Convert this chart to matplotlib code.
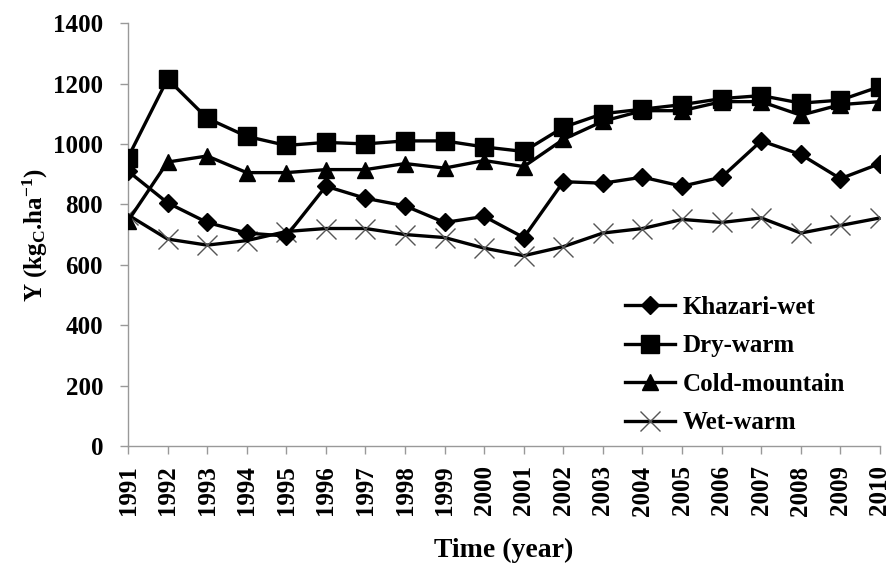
import matplotlib
matplotlib.use("Agg")
import matplotlib.pyplot as plt

years = list(range(1991, 2011))
khazari_wet = [910, 805, 740, 705, 695, 860, 820, 795, 740, 760, 690, 875, 870, 890, 860, 890, 1010, 965, 885, 935]
dry_warm = [955, 1215, 1085, 1025, 995, 1005, 1000, 1010, 1010, 990, 975, 1055, 1100, 1115, 1130, 1150, 1160, 1135, 1145, 1190]
cold_mountain = [745, 940, 960, 905, 905, 915, 915, 935, 920, 945, 925, 1015, 1075, 1110, 1110, 1140, 1140, 1095, 1130, 1140]
wet_warm = [765, 685, 665, 680, 710, 720, 720, 700, 690, 655, 630, 660, 705, 720, 750, 740, 755, 705, 730, 755]
series_names = ["Khazari-wet", "Dry-warm", "Cold-mountain", "Wet-warm"]
y_ticks = [0, 200, 400, 600, 800, 1000, 1200, 1400]

plt.rcParams['font.family'] = ['Liberation Serif', 'DejaVu Serif']
plt.rcParams['font.weight'] = 'bold'
plt.rcParams['mathtext.fontset'] = 'custom'
plt.rcParams['mathtext.rm'] = 'Liberation Serif:bold'
plt.rcParams['mathtext.bf'] = 'Liberation Serif:bold'
plt.rcParams['mathtext.it'] = 'Liberation Serif:bold'
plt.rcParams['mathtext.default'] = 'bf'

fig = plt.figure(figsize=(8.92, 5.63), dpi=100)
ax = fig.add_axes([0.1435, 0.2078, 0.843, 0.7512])

lw = 2.4
ax.plot(years, khazari_wet, color='black', lw=lw, marker='D', markersize=9, label=series_names[0], zorder=4)
ax.plot(years, dry_warm, color='black', lw=lw, marker='s', markersize=13, label=series_names[1], zorder=3)
ax.plot(years, cold_mountain, color='black', lw=lw, marker='^', markersize=12, label=series_names[2], zorder=3)
ax.plot(years, wet_warm, color='black', lw=lw, marker='x', markersize=14, markeredgecolor='#555555',
        markeredgewidth=1.0, label=series_names[3], zorder=2)

ax.set_xlim(1991, 2010)
ax.set_ylim(0, 1400)
ax.set_yticks(y_ticks)
ax.set_xticks(years)
ax.set_xticklabels([str(y) for y in years], rotation=90, fontsize=18, fontweight='bold')
ax.set_yticklabels([str(v) for v in y_ticks], fontsize=18, fontweight='bold')

for s in ['top', 'right']:
    ax.spines[s].set_visible(False)
for s in ['left', 'bottom']:
    ax.spines[s].set_color('#999999')
    ax.spines[s].set_linewidth(1.0)
ax.tick_params(axis='both', direction='out', color='#999999', length=6, width=1.0)
ax.tick_params(axis='x', pad=8)
ax.tick_params(axis='y', pad=12)

ax.set_xlabel("Time (year)", fontsize=20, fontweight='bold', labelpad=16)
ax.set_ylabel(r"Y (kg$_{C}$.ha$^{-1}$)", fontsize=18, fontweight='bold', labelpad=2)

leg = ax.legend(loc='upper left', bbox_to_anchor=(0.661, 0.355), frameon=False, fontsize=18,
                handlelength=2.0, handletextpad=0.3, labelspacing=0.62, borderpad=0, borderaxespad=0)
for t in leg.get_texts():
    t.set_fontweight('bold')

fig.savefig("out.png", dpi=100)
